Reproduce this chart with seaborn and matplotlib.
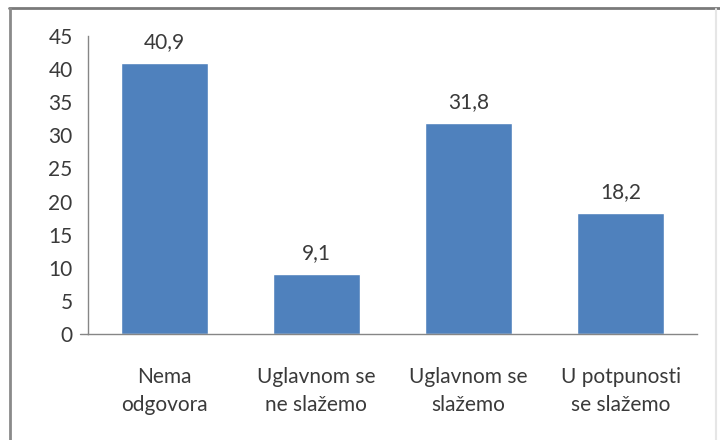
import matplotlib
matplotlib.use("Agg")
import matplotlib.pyplot as plt
import seaborn as sns
import pandas as pd
from matplotlib.lines import Line2D

categories = ["Nema\nodgovora", "Uglavnom se\nne slažemo", "Uglavnom se\nslažemo", "U potpunosti\nse slažemo"]
values = [40.9, 9.1, 31.8, 18.2]
value_labels = ["40,9", "9,1", "31,8", "18,2"]
yticks = [0, 5, 10, 15, 20, 25, 30, 35, 40, 45]

sns.set_theme(style="white")
plt.rcParams["font.family"] = ["Lato", "DejaVu Sans"]

df = pd.DataFrame({"kategorija": categories, "vrijednost": values})

W, H = 720, 440
fig = plt.figure(figsize=(7.2, 4.4), dpi=100)
ax = fig.add_axes([88 / W, 1 - 334 / H, (697 - 88) / W, (334 - 36) / H])

sns.barplot(data=df, x="kategorija", y="vrijednost", color="#4F81BD",
            saturation=1, width=0.57, ax=ax)

ax.set_ylim(0, 45)
ax.set_xlim(-0.5, 3.5)
ax.set_yticks(yticks)
ax.set_yticklabels([str(t) for t in yticks])
ax.set_xlabel("")
ax.set_ylabel("")

text_color = "#3a3a3a"
spine_color = "#868686"
fs = 15
for side in ["top", "right"]:
    ax.spines[side].set_visible(False)
for side in ["left", "bottom"]:
    ax.spines[side].set_color(spine_color)
    ax.spines[side].set_linewidth(1.0)

ax.tick_params(axis="y", which="major", direction="inout", length=14, width=1,
               color=spine_color, labelsize=fs, labelcolor=text_color, pad=4)
ax.tick_params(axis="x", length=0, labelsize=fs, labelcolor=text_color, pad=24)
for lbl in ax.get_xticklabels():
    lbl.set_linespacing(1.5)

# extend the category axis slightly left, as far as the y tick marks
ax.add_line(Line2D([-0.5 - 8 / 152, -0.5], [0, 0], color=spine_color, lw=1.0,
                   clip_on=False))

for i, (v, s) in enumerate(zip(values, value_labels)):
    ax.annotate(s, (i, v), xytext=(0, 8), textcoords="offset points",
                ha="center", va="bottom", fontsize=fs, color=text_color)

# chart frame
fig.add_artist(Line2D([9 / W, 1], [1 - 8.5 / H, 1 - 8.5 / H], color="#7a7a7a", lw=2.0))
fig.add_artist(Line2D([9.5 / W, 9.5 / W], [0, 1 - 8.5 / H], color="#8a8a8a", lw=2.0))
fig.add_artist(Line2D([716 / W, 716 / W], [0, 1 - 9 / H], color="#e6e6e6", lw=1.5))

fig.savefig("out.png", dpi=100, facecolor="white")
